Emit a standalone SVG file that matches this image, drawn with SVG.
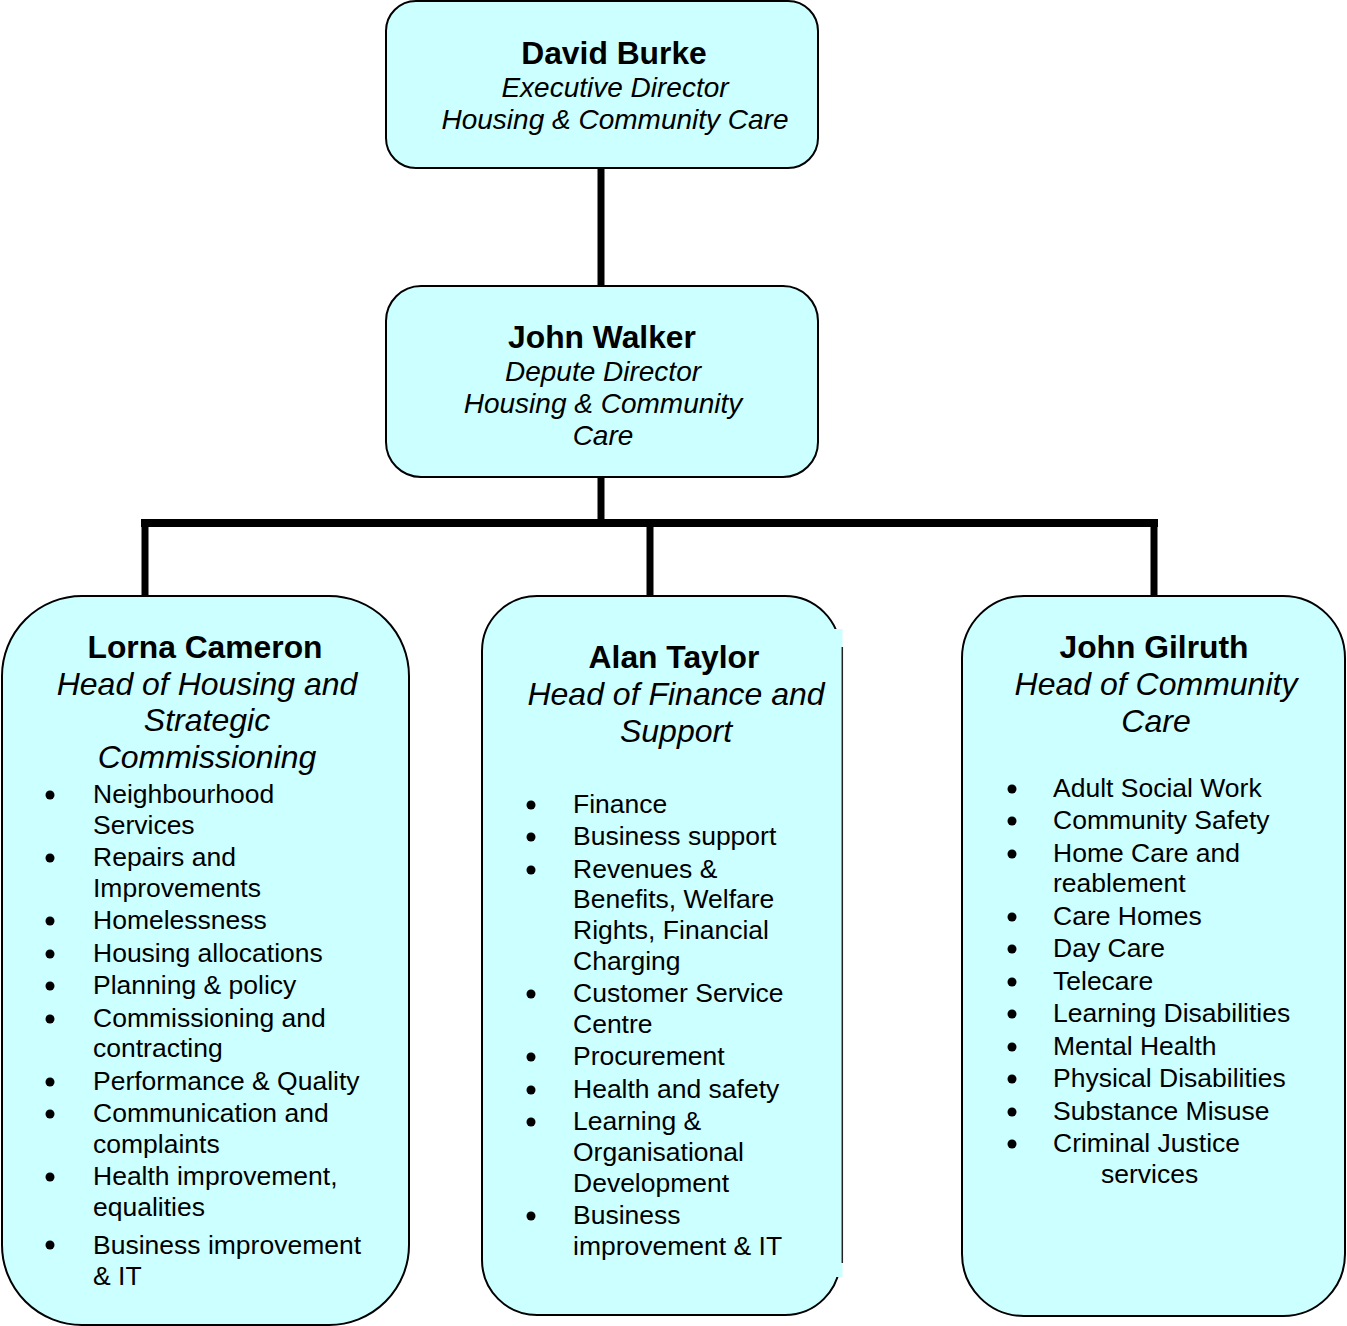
<svg xmlns="http://www.w3.org/2000/svg" width="1347" height="1326" viewBox="0 0 1347 1326">
<style>
.box{fill:#CCFFFF;stroke:#000;stroke-width:2}
.con{stroke:#000;stroke-width:7;fill:none}
text{font-family:"Liberation Sans",Arial,sans-serif;fill:#000}
.nm{font-weight:bold;font-size:31.8px;text-anchor:middle}
.tt{font-style:italic;font-size:28px;text-anchor:middle}
.tb{font-style:italic;font-size:32px;text-anchor:middle}
.it{font-size:26.5px}
.bl{fill:#000}
</style>
<rect width="1347" height="1326" fill="#fff"/>
<g id="connectors">
<line class="con" x1="601" y1="167" x2="601" y2="287"/>
<line class="con" x1="601" y1="476" x2="601" y2="522"/>
<line class="con" x1="141" y1="523" x2="1158" y2="523" style="stroke-width:8"/>
<line class="con" x1="145" y1="520" x2="145" y2="597"/>
<line class="con" x1="650" y1="520" x2="650" y2="597"/>
<line class="con" x1="1154" y1="520" x2="1154" y2="597"/>
</g>
<g id="david-burke">
<rect class="box" x="386" y="1" width="432" height="167" rx="30"/>
<text class="nm" x="614" y="64">David Burke</text>
<text class="tt" x="615" y="97">Executive Director</text>
<text class="tt" x="615" y="129">Housing &amp; Community Care</text>
</g>
<g id="john-walker">
<rect class="box" x="386" y="286" width="432" height="191" rx="35"/>
<text class="nm" x="602" y="348">John Walker</text>
<text class="tt" x="603" y="381">Depute Director</text>
<text class="tt" x="603" y="413">Housing &amp; Community</text>
<text class="tt" x="603" y="445">Care</text>
</g>
<g id="lorna-cameron">
<rect class="box" x="2" y="596" width="407" height="729" rx="80"/>
<text class="nm" x="205" y="658">Lorna Cameron</text>
<text class="tb" x="207" y="695">Head of Housing and</text>
<text class="tb" x="207" y="731">Strategic</text>
<text class="tb" x="207" y="768">Commissioning</text>
<g class="bl">
<circle cx="50" cy="795" r="4.5"/><circle cx="50" cy="858" r="4.5"/><circle cx="50" cy="921" r="4.5"/><circle cx="50" cy="954" r="4.5"/><circle cx="50" cy="986" r="4.5"/><circle cx="50" cy="1019" r="4.5"/><circle cx="50" cy="1082" r="4.5"/><circle cx="50" cy="1114" r="4.5"/><circle cx="50" cy="1177" r="4.5"/><circle cx="50" cy="1245" r="4.5"/>
</g>
<text class="it" x="93" y="803">Neighbourhood</text>
<text class="it" x="93" y="834">Services</text>
<text class="it" x="93" y="866">Repairs and</text>
<text class="it" x="93" y="897">Improvements</text>
<text class="it" x="93" y="929">Homelessness</text>
<text class="it" x="93" y="962">Housing allocations</text>
<text class="it" x="93" y="994">Planning &amp; policy</text>
<text class="it" x="93" y="1027">Commissioning and</text>
<text class="it" x="93" y="1057">contracting</text>
<text class="it" x="93" y="1090">Performance &amp; Quality</text>
<text class="it" x="93" y="1122">Communication and</text>
<text class="it" x="93" y="1153">complaints</text>
<text class="it" x="93" y="1185">Health improvement,</text>
<text class="it" x="93" y="1216">equalities</text>
<text class="it" x="93" y="1254">Business improvement</text>
<text class="it" x="93" y="1285">&amp; IT</text>
</g>
<g id="alan-taylor">
<rect class="box" x="482" y="596" width="358" height="719" rx="55"/>
<rect x="830" y="629" width="12.5" height="648" fill="#CCFFFF"/>
<line x1="842.3" y1="647" x2="842.3" y2="1263" stroke="#222" stroke-width="1.5"/>
<text class="nm" x="674" y="668">Alan Taylor</text>
<text class="tb" x="676" y="705">Head of Finance and</text>
<text class="tb" x="676" y="742">Support</text>
<g class="bl">
<circle cx="531" cy="805" r="4.5"/><circle cx="531" cy="837" r="4.5"/><circle cx="531" cy="870" r="4.5"/><circle cx="531" cy="994" r="4.5"/><circle cx="531" cy="1057" r="4.5"/><circle cx="531" cy="1090" r="4.5"/><circle cx="531" cy="1122" r="4.5"/><circle cx="531" cy="1216" r="4.5"/>
</g>
<text class="it" x="573" y="813">Finance</text>
<text class="it" x="573" y="845">Business support</text>
<text class="it" x="573" y="878">Revenues &amp;</text>
<text class="it" x="573" y="908">Benefits, Welfare</text>
<text class="it" x="573" y="939">Rights, Financial</text>
<text class="it" x="573" y="970">Charging</text>
<text class="it" x="573" y="1002">Customer Service</text>
<text class="it" x="573" y="1033">Centre</text>
<text class="it" x="573" y="1065">Procurement</text>
<text class="it" x="573" y="1098">Health and safety</text>
<text class="it" x="573" y="1130">Learning &amp;</text>
<text class="it" x="573" y="1161">Organisational</text>
<text class="it" x="573" y="1192">Development</text>
<text class="it" x="573" y="1224">Business</text>
<text class="it" x="573" y="1255">improvement &amp; IT</text>
</g>
<g id="john-gilruth">
<rect class="box" x="962" y="596" width="383" height="720" rx="62"/>
<text class="nm" x="1154" y="658">John Gilruth</text>
<text class="tb" x="1156" y="695">Head of Community</text>
<text class="tb" x="1156" y="732">Care</text>
<g class="bl">
<circle cx="1012" cy="789" r="4.5"/><circle cx="1012" cy="821" r="4.5"/><circle cx="1012" cy="854" r="4.5"/><circle cx="1012" cy="917" r="4.5"/><circle cx="1012" cy="949" r="4.5"/><circle cx="1012" cy="982" r="4.5"/><circle cx="1012" cy="1014" r="4.5"/><circle cx="1012" cy="1047" r="4.5"/><circle cx="1012" cy="1079" r="4.5"/><circle cx="1012" cy="1112" r="4.5"/><circle cx="1012" cy="1144" r="4.5"/>
</g>
<text class="it" x="1053" y="797">Adult Social Work</text>
<text class="it" x="1053" y="829">Community Safety</text>
<text class="it" x="1053" y="862">Home Care and</text>
<text class="it" x="1053" y="892">reablement</text>
<text class="it" x="1053" y="925">Care Homes</text>
<text class="it" x="1053" y="957">Day Care</text>
<text class="it" x="1053" y="990">Telecare</text>
<text class="it" x="1053" y="1022">Learning Disabilities</text>
<text class="it" x="1053" y="1055">Mental Health</text>
<text class="it" x="1053" y="1087">Physical Disabilities</text>
<text class="it" x="1053" y="1120">Substance Misuse</text>
<text class="it" x="1053" y="1152">Criminal Justice</text>
<text class="it" x="1101" y="1183">services</text>
</g>
</svg>
